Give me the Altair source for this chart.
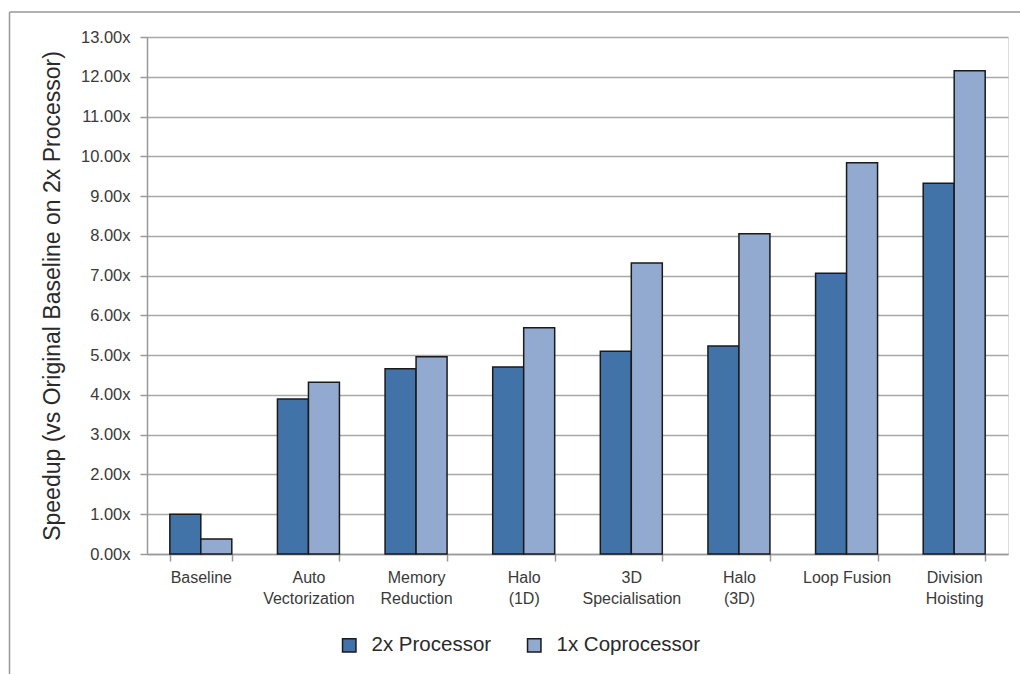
import altair as alt
import pandas as pd

categories = ["Baseline", "Auto\nVectorization", "Memory\nReduction", "Halo\n(1D)",
              "3D\nSpecialisation", "Halo\n(3D)", "Loop Fusion", "Division\nHoisting"]
series = ["2x Processor", "1x Coprocessor"]
processor_2x = [1.00, 3.90, 4.66, 4.70, 5.10, 5.23, 7.06, 9.32]
coprocessor_1x = [0.38, 4.32, 4.96, 5.69, 7.32, 8.05, 9.84, 12.15]
colors = ["#4273A8", "#92AACF"]

rows = []
for i, c in enumerate(categories):
    rows.append({"cat": c, "series": series[0], "val": processor_2x[i]})
    rows.append({"cat": c, "series": series[1], "val": coprocessor_1x[i]})
df = pd.DataFrame(rows)

FONT = "Liberation Sans"

bars = alt.Chart(df).mark_bar(stroke="#1a1a1a", strokeWidth=1.5).encode(
    x=alt.X("cat:N", sort=categories,
            scale=alt.Scale(paddingInner=0.424, paddingOuter=0.212),
            axis=alt.Axis(title=None, labelAngle=0, labelExpr="split(datum.label, '\\n')",
                          labelFontSize=16, labelColor="#3a3a3a", labelFont=FONT,
                          labelLineHeight=21, labelPadding=8, labelBaseline="top",
                          tickBand="extent", tickSize=7, tickColor="#999", tickWidth=1.5,
                          domainColor="#999", domainWidth=1.5, grid=False)),
    xOffset=alt.XOffset("series:N", sort=series, scale=alt.Scale(domain=series, paddingInner=0, paddingOuter=0)),
    y=alt.Y("val:Q",
            scale=alt.Scale(domain=[0, 13], nice=False),
            axis=alt.Axis(title="Speedup (vs Original Baseline on 2x Processor)",
                          values=list(range(0, 14)),
                          labelExpr="format(datum.value, '.2f') + 'x'",
                          labelFontSize=16.5, labelColor="#3a3a3a", labelFont=FONT,
                          labelPadding=10, tickSize=7, tickColor="#999", tickWidth=1.5,
                          domainColor="#999", domainWidth=1.5,
                          grid=True, gridColor="#a8a8a8", gridWidth=1.5,
                          titleFontSize=23, titleFont=FONT, titleFontWeight="normal",
                          titleColor="#2a2a2a", titleX=-95, titleBaseline="middle")),
    color=alt.Color("series:N", sort=series,
                    scale=alt.Scale(domain=series, range=colors),
                    legend=alt.Legend(title=None, orient="none", direction="horizontal",
                                      legendX=192, legendY=598,
                                      symbolType="square", symbolSize=180,
                                      symbolStrokeColor="#1a1a1a", symbolStrokeWidth=1.5,
                                      labelFontSize=20.5, labelFont=FONT, labelColor="#2a2a2a",
                                      labelOffset=12, columnPadding=32, symbolOpacity=1)),
)

frame_df = pd.DataFrame({"k": [0]})
frame_v = alt.Chart(frame_df).mark_rule(color="#999", strokeWidth=1.5).encode(
    x=alt.value(-137.5), y=alt.value(-25), y2=alt.value(700))
frame_h = alt.Chart(frame_df).mark_rule(color="#999", strokeWidth=1.5).encode(
    y=alt.value(-25), x=alt.value(-137.5), x2=alt.value(900))

chart = alt.layer(bars, frame_v, frame_h).properties(
    width=861, height=517,
    padding={"left": 147, "top": 37, "right": 12, "bottom": 120},
    autosize=alt.AutoSizeParams(type="none"),
).configure_view(stroke=None).configure(background="white")

chart.save("out.html", embed_options={"renderer": "svg", "actions": False})
